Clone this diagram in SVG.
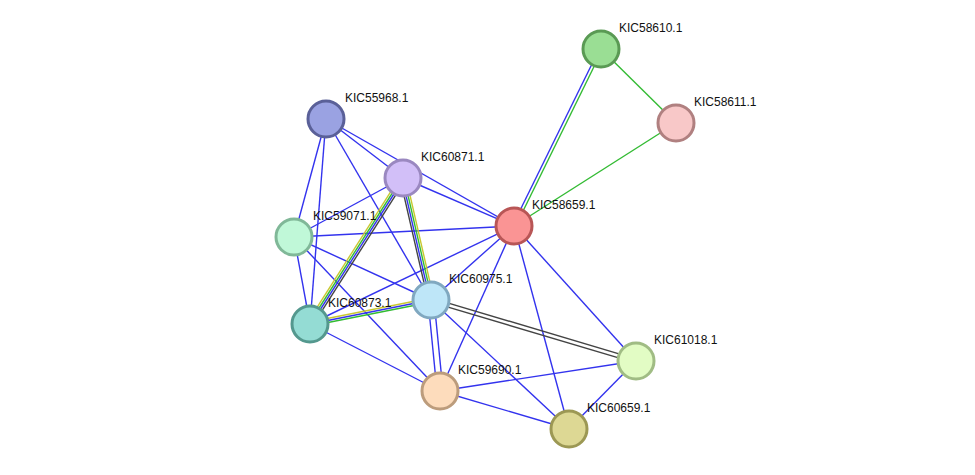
<svg xmlns="http://www.w3.org/2000/svg" width="975" height="475" viewBox="0 0 975 475">
<style>
.e{stroke:#3333ee;stroke-width:1.4;fill:none}
.g{stroke:#33bb33;stroke-width:1.4}
.y{stroke:#c8c830;stroke-width:1.4}
.k{stroke:#444;stroke-width:1.4}
.n{stroke-width:3}
text{font-family:"Liberation Sans",Arial,sans-serif;font-size:12px;fill:#111}
</style>
<rect width="975" height="475" fill="#fff"/>
<g id="edges">
<line class="g" x1="601" y1="49" x2="676" y2="123"/>
<line class="g" x1="676" y1="123" x2="514" y2="226"/>
<g transform="translate(-1.3,-0.7)"><line class="e" x1="601" y1="49" x2="514" y2="226"/></g>
<g transform="translate(1.3,0.7)"><line class="g" x1="601" y1="49" x2="514" y2="226"/></g>
<line class="e" x1="326" y1="119" x2="403" y2="178"/>
<line class="e" x1="326" y1="119" x2="514" y2="226"/>
<line class="e" x1="326" y1="119" x2="294" y2="237"/>
<line class="e" x1="326" y1="119" x2="310" y2="324"/>
<line class="e" x1="326" y1="119" x2="431" y2="300"/>
<line class="e" x1="403" y1="178" x2="514" y2="226"/>
<line class="e" x1="403" y1="178" x2="294" y2="237"/>
<line class="e" x1="294" y1="237" x2="514" y2="226"/>
<line class="e" x1="294" y1="237" x2="310" y2="324"/>
<line class="e" x1="294" y1="237" x2="431" y2="300"/>
<line class="e" x1="294" y1="237" x2="440" y2="391"/>
<line class="e" x1="514" y1="226" x2="431" y2="300"/>
<line class="e" x1="514" y1="226" x2="310" y2="324"/>
<line class="e" x1="514" y1="226" x2="440" y2="391"/>
<line class="e" x1="514" y1="226" x2="636" y2="361"/>
<line class="e" x1="514" y1="226" x2="569" y2="429"/>
<line class="e" x1="310" y1="324" x2="440" y2="391"/>
<line class="e" x1="428" y1="300" x2="437" y2="391"/>
<line class="e" x1="434" y1="300" x2="443" y2="391"/>
<line class="e" x1="431" y1="300" x2="569" y2="429"/>
<line class="e" x1="440" y1="391" x2="636" y2="361"/>
<line class="e" x1="440" y1="391" x2="569" y2="429"/>
<line class="e" x1="636" y1="361" x2="569" y2="429"/>
<g transform="translate(-0.6,1.9)"><line class="k" x1="431" y1="300" x2="636" y2="361"/></g>
<g transform="translate(0.6,-1.9)"><line class="k" x1="431" y1="300" x2="636" y2="361"/></g>
<g transform="translate(-2.5,-1.6)"><line class="y" x1="403" y1="178" x2="310" y2="324"/></g>
<g transform="translate(-0.8,-0.5)"><line class="g" x1="403" y1="178" x2="310" y2="324"/></g>
<g transform="translate(0.8,0.5)"><line class="e" x1="403" y1="178" x2="310" y2="324"/></g>
<g transform="translate(2.5,1.6)"><line class="k" x1="403" y1="178" x2="310" y2="324"/></g>
<g transform="translate(2.9,-0.7)"><line class="y" x1="403" y1="178" x2="431" y2="300"/></g>
<g transform="translate(1,-0.2)"><line class="g" x1="403" y1="178" x2="431" y2="300"/></g>
<g transform="translate(-1,0.2)"><line class="e" x1="403" y1="178" x2="431" y2="300"/></g>
<g transform="translate(-2.9,0.7)"><line class="k" x1="403" y1="178" x2="431" y2="300"/></g>
<g transform="translate(-0.4,-2)"><line class="y" x1="310" y1="324" x2="431" y2="300"/></g>
<g transform="translate(0,0)"><line class="e" x1="310" y1="324" x2="431" y2="300"/></g>
<g transform="translate(0.4,2)"><line class="g" x1="310" y1="324" x2="431" y2="300"/></g>
</g>
<g id="KIC58610.1"><circle class="n" cx="601" cy="49" r="18" fill="#9ade94" stroke="#5a9a54"/><text x="619" y="32">KIC58610.1</text></g>
<g id="KIC58611.1"><circle class="n" cx="676" cy="123" r="18" fill="#f8c8c8" stroke="#b08080"/><text x="694" y="106">KIC58611.1</text></g>
<g id="KIC55968.1"><circle class="n" cx="326" cy="119" r="18" fill="#9aa2e2" stroke="#5a6098"/><text x="345" y="102">KIC55968.1</text></g>
<g id="KIC60871.1"><circle class="n" cx="403" cy="178" r="18" fill="#d2bff8" stroke="#9a88c0"/><text x="421" y="161">KIC60871.1</text></g>
<g id="KIC58659.1"><circle class="n" cx="514" cy="226" r="18" fill="#fa9494" stroke="#b85656"/><text x="532" y="209">KIC58659.1</text></g>
<g id="KIC59071.1"><circle class="n" cx="294" cy="237" r="18" fill="#c0f8d8" stroke="#80b898"/><text x="313" y="220">KIC59071.1</text></g>
<g id="KIC60975.1"><circle class="n" cx="431" cy="300" r="18" fill="#bee6f8" stroke="#80a8c0"/><text x="449" y="283">KIC60975.1</text></g>
<g id="KIC60873.1"><circle class="n" cx="310" cy="324" r="18" fill="#94dcd4" stroke="#54988e"/><text x="328" y="307">KIC60873.1</text></g>
<g id="KIC61018.1"><circle class="n" cx="636" cy="361" r="18" fill="#e2fcc4" stroke="#a0bc84"/><text x="654" y="344">KIC61018.1</text></g>
<g id="KIC59690.1"><circle class="n" cx="440" cy="391" r="18" fill="#fddcbc" stroke="#bc9c7c"/><text x="458" y="374">KIC59690.1</text></g>
<g id="KIC60659.1"><circle class="n" cx="569" cy="429" r="18" fill="#ddd894" stroke="#9c9854"/><text x="587" y="412">KIC60659.1</text></g>
</svg>
